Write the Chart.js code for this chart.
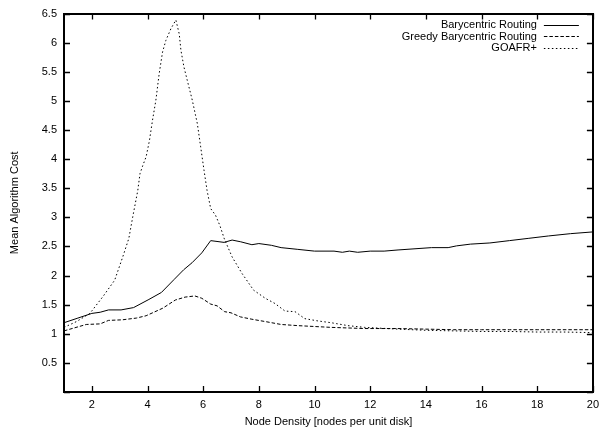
<!DOCTYPE html>
<html>
<head>
<meta charset="utf-8">
<script src="https://cdn.jsdelivr.net/npm/chart.js@4.4.1/dist/chart.umd.min.js"></script>
<style>
  html, body { margin: 0; padding: 0; background: #fff; }
  #wrap { width: 605px; height: 429px; }
</style>
</head>
<body>
<div id="wrap"><canvas id="c" width="605" height="429"></canvas></div>
<script>
// Mean algorithm cost vs. node density
const baryX = [1, 1.5, 2, 2.3, 2.6, 3.05, 3.5, 4.05, 4.5, 4.95, 5.3, 5.6, 5.95, 6.27, 6.75, 7.04, 7.35, 7.75, 8.0, 8.45, 8.8, 9.4, 10.0, 10.7, 11.0, 11.25, 11.55, 12.0, 12.5, 13.0, 14.2, 14.8, 15.1, 15.6, 16.3, 17.0, 17.7, 18.4, 19.2, 20];
const baryY = [1.19, 1.27, 1.35, 1.37, 1.41, 1.41, 1.45, 1.59, 1.71, 1.93, 2.10, 2.22, 2.39, 2.60, 2.57, 2.61, 2.58, 2.53, 2.55, 2.52, 2.48, 2.45, 2.42, 2.42, 2.40, 2.42, 2.40, 2.42, 2.42, 2.44, 2.48, 2.48, 2.51, 2.54, 2.56, 2.60, 2.64, 2.68, 2.72, 2.75];

const greedyX = [1, 1.8, 2.3, 2.6, 3.1, 3.6, 3.95, 4.55, 5.0, 5.35, 5.7, 5.95, 6.27, 6.5, 6.77, 7.0, 7.34, 7.75, 8.23, 8.8, 9.4, 10.6, 11.8, 13.0, 14, 15, 16, 17, 18, 19, 20];
const greedyY = [1.05, 1.16, 1.17, 1.23, 1.24, 1.27, 1.31, 1.44, 1.58, 1.63, 1.65, 1.61, 1.51, 1.48, 1.38, 1.36, 1.29, 1.25, 1.21, 1.16, 1.14, 1.11, 1.09, 1.09, 1.08, 1.07, 1.07, 1.07, 1.07, 1.07, 1.07];

const goafrX = [1, 1.45, 1.93, 2.4, 2.82, 3.11, 3.33, 3.47, 3.65, 3.73, 3.83, 3.95, 4.07, 4.18, 4.30, 4.42, 4.54, 4.66, 4.84, 5.02, 5.14, 5.20, 5.31, 5.43, 5.61, 5.79, 5.91, 6.03, 6.14, 6.27, 6.44, 6.6, 6.76, 7.04, 7.39, 7.81, 8.23, 8.58, 8.94, 9.30, 9.65, 10.13, 10.6, 11.2, 11.8, 13.0, 14, 15, 16, 17, 18, 19, 20];
const goafrY = [1.11, 1.21, 1.35, 1.64, 1.92, 2.32, 2.64, 3.01, 3.46, 3.75, 3.89, 4.04, 4.32, 4.67, 5.01, 5.47, 5.84, 6.04, 6.24, 6.39, 6.15, 5.87, 5.58, 5.35, 5.01, 4.61, 4.21, 3.81, 3.46, 3.15, 3.04, 2.86, 2.63, 2.32, 2.04, 1.75, 1.61, 1.52, 1.39, 1.38, 1.26, 1.22, 1.19, 1.14, 1.11, 1.08, 1.06, 1.05, 1.04, 1.04, 1.03, 1.03, 1.02];

const seriesNames = ['Barycentric Routing', 'Greedy Barycentric Routing', 'GOAFR+'];
const xTickValues = [2, 4, 6, 8, 10, 12, 14, 16, 18, 20];
const yTickValues = [0, 0.5, 1, 1.5, 2, 2.5, 3, 3.5, 4, 4.5, 5, 5.5, 6, 6.5];

const FONT = 'Liberation Sans, Arial, Helvetica, sans-serif';
const INK = '#000';

const toPoints = (xs, ys) => xs.map((x, i) => ({ x: x, y: ys[i] }));

// Plot frame with gnuplot-style inward ticks on all four sides
const framePlugin = {
  id: 'frame',
  afterDatasetsDraw(chart) {
    const { ctx, chartArea: a, scales } = chart;
    const len = 6;
    ctx.save();
    ctx.strokeStyle = INK;
    ctx.lineWidth = 1.3;
    ctx.beginPath();
    scales.x.ticks.forEach(t => {
      const px = Math.round(scales.x.getPixelForValue(t.value)) + 0.5;
      ctx.moveTo(px, a.bottom); ctx.lineTo(px, a.bottom - len);
      ctx.moveTo(px, a.top); ctx.lineTo(px, a.top + len);
    });
    scales.y.ticks.forEach(t => {
      const py = Math.round(scales.y.getPixelForValue(t.value)) + 0.5;
      ctx.moveTo(a.left, py); ctx.lineTo(a.left + len, py);
      ctx.moveTo(a.right, py); ctx.lineTo(a.right - len, py);
    });
    ctx.stroke();
    ctx.lineWidth = 2;
    ctx.strokeRect(Math.round(a.left), Math.round(a.top), Math.round(a.right - a.left), Math.round(a.bottom - a.top));
    ctx.restore();
  }
};

// Key in the top-right corner: right-aligned names followed by line samples
const keyPlugin = {
  id: 'key',
  afterDatasetsDraw(chart) {
    const { ctx, chartArea: a } = chart;
    const textRight = a.right - 56;
    const sampleL = a.right - 49;
    const sampleR = a.right - 14;
    ctx.save();
    ctx.font = '11px ' + FONT;
    ctx.textAlign = 'right';
    ctx.textBaseline = 'middle';
    chart.data.datasets.forEach((ds, i) => {
      const y = a.top + 11 + i * 11.5;
      ctx.fillStyle = INK;
      ctx.fillText(ds.label, textRight, y + 0.5);
      ctx.strokeStyle = ds.borderColor;
      ctx.lineWidth = ds.borderWidth;
      ctx.setLineDash(ds.borderDash || []);
      ctx.beginPath();
      ctx.moveTo(sampleL, Math.round(y) + 0.5);
      ctx.lineTo(sampleR, Math.round(y) + 0.5);
      ctx.stroke();
    });
    ctx.restore();
  }
};

new Chart(document.getElementById('c'), {
  type: 'line',
  data: {
    datasets: [
      { label: seriesNames[0], data: toPoints(baryX, baryY), borderColor: INK, borderWidth: 1, borderDash: [] },
      { label: seriesNames[1], data: toPoints(greedyX, greedyY), borderColor: INK, borderWidth: 1, borderDash: [3.5, 2] },
      { label: seriesNames[2], data: toPoints(goafrX, goafrY), borderColor: INK, borderWidth: 1, borderDash: [1.5, 2.5] }
    ]
  },
  options: {
    responsive: false,
    animation: false,
    events: [],
    layout: { padding: { top: 13, right: 8, left: 0, bottom: 0 } },
    elements: { point: { radius: 0 }, line: { tension: 0 } },
    plugins: { legend: { display: false }, tooltip: { enabled: false } },
    scales: {
      x: {
        type: 'linear',
        min: 1, max: 20,
        afterFit: s => { s.height = 37; },
        afterBuildTicks: s => { s.ticks = xTickValues.map(v => ({ value: v })); },
        grid: { display: false, drawTicks: false },
        border: { display: false },
        ticks: { color: INK, font: { family: FONT, size: 11 }, padding: 6, maxRotation: 0, autoSkip: false, callback: v => String(v) },
        title: { display: true, text: 'Node Density [nodes per unit disk]', color: INK, font: { family: FONT, size: 11 }, padding: { top: 0, bottom: 0 } }
      },
      y: {
        type: 'linear',
        min: 0, max: 6.5,
        afterFit: s => { s.width = 64; },
        afterBuildTicks: s => { s.ticks = yTickValues.map(v => ({ value: v })); },
        grid: { display: false, drawTicks: false },
        border: { display: false },
        ticks: { color: INK, font: { family: FONT, size: 11 }, padding: 7, autoSkip: false, callback: v => (v === 0 ? '' : String(v)) },
        title: { display: true, text: 'Mean Algorithm Cost', color: INK, font: { family: FONT, size: 11 }, padding: { top: 8, bottom: 0 } }
      }
    }
  },
  plugins: [framePlugin, keyPlugin]
});
</script>
</body>
</html>
